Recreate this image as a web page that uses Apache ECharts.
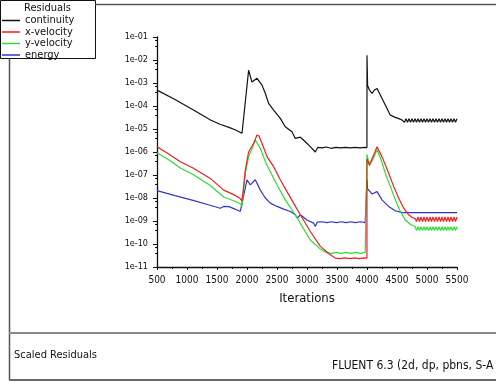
<!DOCTYPE html>
<html>
<head>
<meta charset="utf-8">
<script src="https://cdn.jsdelivr.net/npm/echarts@6/dist/echarts.min.js"></script>
<style>
  html, body { margin: 0; padding: 0; background: #fff; }
  #chart { width: 496px; height: 382px; }
</style>
</head>
<body>
<div id="chart"></div>
<script>
// Scaled residual history of the solver run
const seriesNames = ['continuity', 'x-velocity', 'y-velocity', 'energy'];
const yTickValues = [1e-11, 1e-10, 1e-9, 1e-8, 1e-7, 1e-6, 1e-5, 1e-4, 1e-3, 1e-2, 1e-1];
const xTickValues = [500, 1000, 1500, 2000, 2500, 3000, 3500, 4000, 4500, 5000, 5500];

const contIter = [500, 800, 1100, 1400, 1550, 1700, 1800, 1917, 2027, 2083, 2167, 2250, 2305, 2360, 2444, 2555, 2638, 2750, 2805, 2888, 2972, 3055, 3138, 3180, 3250, 3320, 3400, 3480, 3560, 3640, 3720, 3800, 3880, 3960, 3999,
  4000, 4010, 4040, 4083, 4125, 4167, 4222, 4305, 4389, 4472, 4540, 4583,
  4600, 4625, 4650, 4675, 4700, 4725, 4750, 4775, 4800, 4825, 4850, 4875, 4900, 4925, 4950, 4975, 5000, 5025, 5050, 5075, 5100, 5125, 5150, 5175, 5200, 5225, 5250, 5275, 5300, 5325, 5350, 5375, 5400, 5425, 5450, 5475, 5500];
const contRes = [4.9e-4, 1.9e-4, 6.8e-5, 2.4e-5, 1.6e-5, 1.17e-5, 9.3e-6, 6.5e-6, 3.6e-3, 1.1e-3, 1.6e-3, 8.1e-4, 3.6e-4, 1.3e-4, 6.6e-5, 2.9e-5, 1.26e-5, 7.6e-6, 3.9e-6, 4.4e-6, 2.8e-6, 1.7e-6, 1.0e-6, 1.6e-6, 1.5e-6, 1.65e-6, 1.45e-6, 1.6e-6, 1.5e-6, 1.6e-6, 1.5e-6, 1.6e-6, 1.5e-6, 1.6e-6, 1.55e-6,
  1.6e-2, 7.9e-4, 5.0e-4, 3.5e-4, 5.0e-4, 5.8e-4, 3.0e-4, 1.1e-4, 4.0e-5, 3.2e-5, 2.75e-5, 2.45e-5,
  2.8e-5, 1.95e-5, 2.8e-5, 1.95e-5, 2.8e-5, 1.95e-5, 2.8e-5, 1.95e-5, 2.8e-5, 1.95e-5, 2.8e-5, 1.95e-5, 2.8e-5, 1.95e-5, 2.8e-5, 1.95e-5, 2.8e-5, 1.95e-5, 2.8e-5, 1.95e-5, 2.8e-5, 1.95e-5, 2.8e-5, 1.95e-5, 2.8e-5, 1.95e-5, 2.8e-5, 1.95e-5, 2.8e-5, 1.95e-5, 2.8e-5, 1.95e-5, 2.8e-5, 1.95e-5, 2.8e-5, 1.95e-5, 2.8e-5];

const xvelIter = [500, 700, 888, 1100, 1388, 1611, 1777, 1888, 1917, 1972, 2027, 2111, 2166, 2200, 2250, 2333, 2444, 2555, 2666, 2777, 2888, 3055, 3222, 3388, 3472, 3550, 3630, 3710, 3790, 3870, 3950, 3999,
  4000, 4040, 4100, 4167, 4250, 4361, 4444, 4527, 4611, 4694, 4760, 4805,
  4825, 4850, 4875, 4900, 4925, 4950, 4975, 5000, 5025, 5050, 5075, 5100, 5125, 5150, 5175, 5200, 5225, 5250, 5275, 5300, 5325, 5350, 5375, 5400, 5425, 5450, 5475, 5500];
const xvelRes = [1.7e-6, 7.9e-7, 3.8e-7, 2.0e-7, 7.1e-8, 2.2e-8, 1.4e-8, 9.5e-9, 7.1e-9, 1.66e-7, 1.0e-6, 2.4e-6, 5.5e-6, 5.0e-6, 2.4e-6, 6.3e-7, 2.3e-7, 6.2e-8, 1.9e-8, 6.0e-9, 1.86e-9, 3.5e-10, 7.9e-11, 3.4e-11, 2.45e-11, 2.3e-11, 2.5e-11, 2.3e-11, 2.5e-11, 2.3e-11, 2.5e-11, 2.4e-11,
  5.0e-7, 2.8e-7, 6.3e-7, 1.7e-6, 6.3e-7, 1.2e-7, 3.2e-8, 1.0e-8, 3.6e-9, 1.86e-9, 1.4e-9, 1.26e-9,
  9.5e-10, 1.5e-9, 9.5e-10, 1.5e-9, 9.5e-10, 1.5e-9, 9.5e-10, 1.5e-9, 9.5e-10, 1.5e-9, 9.5e-10, 1.5e-9, 9.5e-10, 1.5e-9, 9.5e-10, 1.5e-9, 9.5e-10, 1.5e-9, 9.5e-10, 1.5e-9, 9.5e-10, 1.5e-9, 9.5e-10, 1.5e-9, 9.5e-10, 1.5e-9, 9.5e-10, 1.5e-9];

const yvelIter = [500, 700, 888, 1100, 1388, 1611, 1777, 1888, 1917, 1972, 2027, 2100, 2138, 2170, 2222, 2305, 2416, 2527, 2638, 2750, 2860, 2888, 3055, 3222, 3333, 3410, 3490, 3570, 3650, 3730, 3810, 3890, 3970, 3999,
  4000, 4040, 4100, 4167, 4230, 4305, 4389, 4472, 4555, 4638, 4722, 4800,
  4825, 4850, 4875, 4900, 4925, 4950, 4975, 5000, 5025, 5050, 5075, 5100, 5125, 5150, 5175, 5200, 5225, 5250, 5275, 5300, 5325, 5350, 5375, 5400, 5425, 5450, 5475, 5500];
const yvelRes = [9.3e-7, 4.5e-7, 2.0e-7, 1.05e-7, 3.5e-8, 1.1e-8, 7.6e-9, 5.6e-9, 4.5e-9, 1.2e-7, 6.3e-7, 1.8e-6, 3.3e-6, 3.5e-6, 1.45e-6, 3.8e-7, 1.0e-7, 2.7e-8, 8.3e-9, 3.0e-9, 1.1e-9, 7.9e-10, 1.5e-10, 6.0e-11, 4.1e-11, 3.9e-11, 4.3e-11, 3.9e-11, 4.3e-11, 3.9e-11, 4.3e-11, 3.9e-11, 4.3e-11, 4.1e-11,
  7.9e-7, 2.5e-7, 5.0e-7, 1.26e-6, 5.0e-7, 1.2e-7, 3.2e-8, 8.3e-9, 2.6e-9, 1.1e-9, 7.2e-10, 5.8e-10,
  3.9e-10, 5.6e-10, 3.9e-10, 5.6e-10, 3.9e-10, 5.6e-10, 3.9e-10, 5.6e-10, 3.9e-10, 5.6e-10, 3.9e-10, 5.6e-10, 3.9e-10, 5.6e-10, 3.9e-10, 5.6e-10, 3.9e-10, 5.6e-10, 3.9e-10, 5.6e-10, 3.9e-10, 5.6e-10, 3.9e-10, 5.6e-10, 3.9e-10, 5.6e-10, 3.9e-10, 5.6e-10];

const energyIter = [500, 800, 1100, 1400, 1555, 1611, 1700, 1800, 1888, 1917, 2000, 2055, 2138, 2222, 2305, 2388, 2500, 2611, 2722, 2805, 2840, 2888, 3000, 3111, 3138, 3170, 3250, 3330, 3410, 3490, 3570, 3650, 3730, 3810, 3890, 3970, 3999,
  4000, 4010, 4083, 4167, 4250, 4361, 4472, 4583, 5500];
const energyRes = [2.1e-8, 1.26e-8, 7.9e-9, 4.7e-9, 3.6e-9, 4.3e-9, 4.2e-9, 3.3e-9, 2.6e-9, 2.8e-9, 6.2e-8, 3.7e-8, 6.2e-8, 2.2e-8, 1.0e-8, 6.0e-9, 4.3e-9, 3.3e-9, 2.6e-9, 1.86e-9, 1.35e-9, 1.86e-9, 1.1e-9, 8.1e-10, 5.8e-10, 8.9e-10, 9.3e-10, 8.5e-10, 9.3e-10, 8.5e-10, 9.3e-10, 8.5e-10, 9.3e-10, 8.5e-10, 9.3e-10, 8.5e-10, 9.0e-10,
  6.2e-8, 2.5e-8, 1.5e-8, 1.9e-8, 8.3e-9, 4.3e-9, 2.8e-9, 2.3e-9, 2.3e-9];

const seriesColors = ['#111111', '#ee2020', '#30dd30', '#3535c8'];
const FONT = '"DejaVu Sans Condensed", "Liberation Sans Narrow", "DejaVu Sans", sans-serif';

function pairs(xs, ys) { return xs.map((x, i) => [x, ys[i]]); }

const seriesData = [
  pairs(contIter, contRes),
  pairs(xvelIter, xvelRes),
  pairs(yvelIter, yvelRes),
  pairs(energyIter, energyRes)
];

const chart = echarts.init(document.getElementById('chart'), null, { renderer: 'canvas' });

chart.setOption({
  animation: false,
  backgroundColor: '#ffffff',
  grid: { left: 157, right: 39, top: 37, bottom: 115, containLabel: false },
  legend: {
    orient: 'vertical',
    left: 2,
    top: 15,
    padding: 0,
    itemGap: 0.5,
    itemWidth: 18,
    itemHeight: 1.5,
    icon: 'rect',
    data: seriesNames,
    textStyle: { fontFamily: FONT, fontSize: 11, lineHeight: 10, color: '#111' },
    selectedMode: false
  },
  xAxis: {
    type: 'value',
    min: 500,
    max: 5500,
    interval: 500,
    name: 'Iterations',
    nameLocation: 'middle',
    nameGap: 25,
    nameTextStyle: { fontFamily: FONT, fontSize: 13, color: '#111' },
    axisLine: { show: true, onZero: false, lineStyle: { color: '#111', width: 1.3 } },
    axisTick: { show: true, inside: false, length: 3, lineStyle: { color: '#111' } },
    minorTick: { show: true, splitNumber: 2, length: 2, lineStyle: { color: '#111' } },
    splitLine: { show: false },
    axisLabel: {
      margin: 8,
      fontFamily: FONT, fontSize: 10, color: '#111',
      formatter: v => xTickValues.includes(v) ? String(v) : ''
    }
  },
  yAxis: {
    type: 'log',
    logBase: 10,
    min: yTickValues[0],
    max: yTickValues[yTickValues.length - 1],
    interval: 1,
    axisLine: { show: true, onZero: false, lineStyle: { color: '#111', width: 1.3 } },
    axisTick: { show: true, inside: false, length: 4, lineStyle: { color: '#111' } },
    minorTick: { show: true, splitNumber: 3, length: 2, lineStyle: { color: '#111' } },
    splitLine: { show: false },
    axisLabel: {
      margin: 9,
      fontFamily: FONT, fontSize: 9, color: '#111',
      formatter: v => {
        const e = -Math.round(Math.log10(v));
        return '1e-' + String(e).padStart(2, '0');
      }
    }
  },
  series: seriesNames.map((name, i) => ({
    name,
    type: 'line',
    data: seriesData[i],
    showSymbol: false,
    symbol: 'none',
    color: seriesColors[i],
    lineStyle: { color: seriesColors[i], width: 1.2 },
    z: 10 - i
  })),
  graphic: [
    // legend box
    { type: 'rect', shape: { x: 0.5, y: 0.5, width: 95, height: 58 }, style: { fill: 'none', stroke: '#111', lineWidth: 1 } },
    { type: 'text', left: 24, top: 3, style: { text: 'Residuals', font: '11px ' + FONT, fill: '#111' } },
    // window frame
    { type: 'line', shape: { x1: 95.5, y1: 4.5, x2: 496, y2: 4.5 }, style: { stroke: '#555', lineWidth: 1.5 } },
    { type: 'line', shape: { x1: 9.5, y1: 58.5, x2: 9.5, y2: 380 }, style: { stroke: '#555', lineWidth: 1.5 } },
    { type: 'line', shape: { x1: 9, y1: 333, x2: 496, y2: 333 }, style: { stroke: '#8a8a8a', lineWidth: 2 } },
    { type: 'line', shape: { x1: 9, y1: 380, x2: 496, y2: 380 }, style: { stroke: '#6a6a6a', lineWidth: 2 } },
    { type: 'text', left: 14, top: 350, style: { text: 'Scaled Residuals', font: '11px ' + FONT, fill: '#111' } },
    { type: 'text', left: 332, top: 360, style: { text: 'FLUENT 6.3 (2d, dp, pbns, S-A', font: '12px ' + FONT, fill: '#111' } }
  ]
});
</script>
</body>
</html>
